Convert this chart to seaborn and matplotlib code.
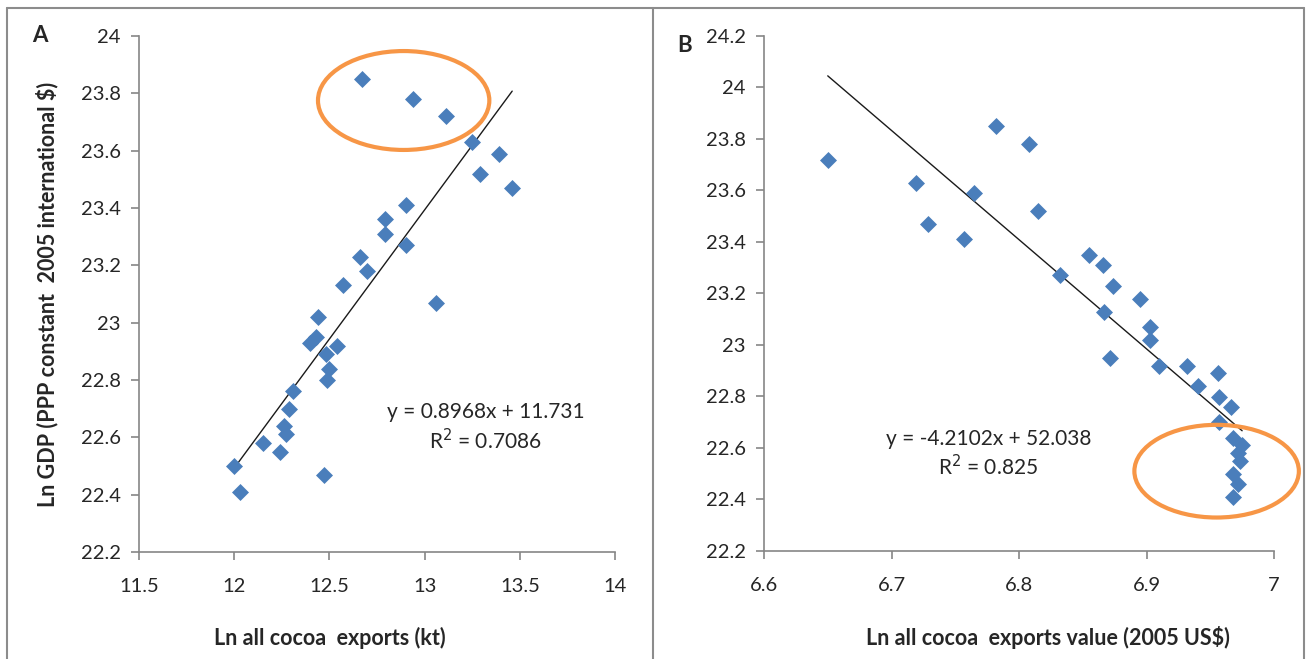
import numpy as np
import pandas as pd
import seaborn as sns
import matplotlib.pyplot as plt
from matplotlib.patches import Ellipse
from matplotlib.lines import Line2D
from matplotlib.ticker import FuncFormatter, MultipleLocator

# ---- Data ----
a_exports = [12.00, 12.03, 12.15, 12.24, 12.26, 12.27, 12.29, 12.31, 12.47, 12.40,
             12.43, 12.44, 12.48, 12.50, 12.49, 12.54, 12.57, 12.66, 12.70, 12.79,
             12.79, 12.90, 12.90, 13.06, 13.25, 13.29, 13.39, 13.46, 12.67, 12.94, 13.11]
a_gdp = [22.50, 22.41, 22.58, 22.55, 22.64, 22.61, 22.70, 22.76, 22.47, 22.93,
         22.95, 23.02, 22.89, 22.84, 22.80, 22.92, 23.13, 23.23, 23.18, 23.36,
         23.31, 23.41, 23.27, 23.07, 23.63, 23.52, 23.59, 23.47, 23.85, 23.78, 23.72]

b_value = [6.650, 6.719, 6.729, 6.757, 6.765, 6.782, 6.808, 6.815, 6.832, 6.855,
           6.866, 6.867, 6.871, 6.874, 6.895, 6.903, 6.903, 6.910, 6.932, 6.940,
           6.956, 6.957, 6.957, 6.966, 6.968, 6.975, 6.972, 6.973, 6.968, 6.972, 6.968]
b_gdp = [23.72, 23.63, 23.47, 23.41, 23.59, 23.85, 23.78, 23.52, 23.27, 23.35,
         23.31, 23.13, 22.95, 23.23, 23.18, 23.07, 23.02, 22.92, 22.92, 22.84,
         22.89, 22.80, 22.70, 22.76, 22.64, 22.61, 22.58, 22.55, 22.50, 22.46, 22.41]

eq_a = ["y = 0.8968x + 11.731", "R$^2$ = 0.7086"]
eq_b = ["y = -4.2102x + 52.038", "R$^2$ = 0.825"]

df_a = pd.DataFrame({"x": a_exports, "y": a_gdp})
df_b = pd.DataFrame({"x": b_value, "y": b_gdp})

sns.set_style("white")
plt.rcParams['font.family'] = ['Lato', 'DejaVu Sans']

BLUE = "#4a7ebb"
ORANGE = "#f79646"
GRAY = "#868686"
TXT = "#262626"
FS_TICK = 14.5
FS_LAB = 15.5
FS_EQ = 15

fig = plt.figure(figsize=(13.07, 6.59), dpi=100)
ax_a = fig.add_axes([139/1307, 1-552/659, (615-139)/1307, (552-36)/659])
ax_b = fig.add_axes([764/1307, 1-551/659, (1274-764)/1307, (551-36)/659])

fmt = FuncFormatter(lambda v, p: f"{round(v, 2):g}")

def style(ax, xlim, ylim, xstep):
    ax.set_xlim(*xlim)
    ax.set_ylim(*ylim)
    ax.xaxis.set_major_locator(MultipleLocator(xstep))
    ax.yaxis.set_major_locator(MultipleLocator(0.2))
    ax.xaxis.set_major_formatter(fmt)
    ax.yaxis.set_major_formatter(fmt)
    for s in ["top", "right"]:
        ax.spines[s].set_visible(False)
    for s in ["left", "bottom"]:
        ax.spines[s].set_color(GRAY)
        ax.spines[s].set_linewidth(1.2)
    ax.tick_params(direction="out", length=6, width=1.2, color=GRAY,
                   labelsize=FS_TICK, labelcolor=TXT, left=True, bottom=True)
    ax.tick_params(axis="x", pad=13)
    ax.tick_params(axis="y", pad=7)

# Panel A
sns.regplot(data=df_a, x="x", y="y", ax=ax_a, ci=None, scatter=False,
            truncate=True, line_kws=dict(color="#1a1a1a", lw=1.0))
sns.scatterplot(data=df_a, x="x", y="y", ax=ax_a, marker="D", s=75,
                color=BLUE, edgecolor=BLUE, linewidth=0, zorder=3)
style(ax_a, (11.5, 14), (22.2, 24), 0.5)
ax_a.set_xlabel("Ln all cocoa  exports (kt)", fontsize=FS_LAB, fontweight="bold",
                color=TXT)
ax_a.xaxis.set_label_coords(0.40, -0.145)
ax_a.set_ylabel("Ln GDP (PPP constant  2005 international $)", fontsize=FS_LAB,
                fontweight="bold", color=TXT)
ax_a.yaxis.set_label_coords(-0.17, 0.5)
ax_a.text(13.32, 22.687, eq_a[0], ha="center", va="center", fontsize=FS_EQ, color=TXT)
ax_a.text(13.32, 22.59, eq_a[1], ha="center", va="center", fontsize=FS_EQ, color=TXT)
ax_a.add_patch(Ellipse((12.89, 23.775), 0.90, 0.345, fill=False,
                       edgecolor=ORANGE, lw=3, zorder=4, clip_on=False))

# Panel B
sns.regplot(data=df_b, x="x", y="y", ax=ax_b, ci=None, scatter=False,
            truncate=True, line_kws=dict(color="#1a1a1a", lw=1.0))
sns.scatterplot(data=df_b, x="x", y="y", ax=ax_b, marker="D", s=75,
                color=BLUE, edgecolor=BLUE, linewidth=0, zorder=3)
style(ax_b, (6.6, 7.0), (22.2, 24.2), 0.1)
ax_b.set_xlabel("Ln all cocoa  exports value (2005 US$)", fontsize=FS_LAB,
                fontweight="bold", color=TXT)
ax_b.xaxis.set_label_coords(0.557, -0.145)
ax_b.set_ylabel("")
ax_b.text(6.776, 22.635, eq_b[0], ha="center", va="center", fontsize=FS_EQ, color=TXT)
ax_b.text(6.776, 22.526, eq_b[1], ha="center", va="center", fontsize=FS_EQ, color=TXT)
ax_b.add_patch(Ellipse((6.955, 22.51), 0.129, 0.36, fill=False,
                       edgecolor=ORANGE, lw=3, zorder=4, clip_on=False))

# Panel letters
fig.text(40/1307, 1-36/659, "A", fontsize=16, fontweight="bold", color=TXT,
         ha="center", va="center")
fig.text(685/1307, 1-46/659, "B", fontsize=16, fontweight="bold", color=TXT,
         ha="center", va="center")

# Chart-area borders
bc = "#8c8c8c"
for (x0, y0, x1, y1) in [(7, 8, 1304, 8), (7, 8, 7, 659), (653, 8, 653, 659),
                         (1304, 8, 1304, 659)]:
    fig.add_artist(Line2D([x0/1307, x1/1307], [1-y0/659, 1-y1/659],
                          color=bc, lw=1.5, transform=fig.transFigure))

fig.savefig("out.png", dpi=100, facecolor="white")
